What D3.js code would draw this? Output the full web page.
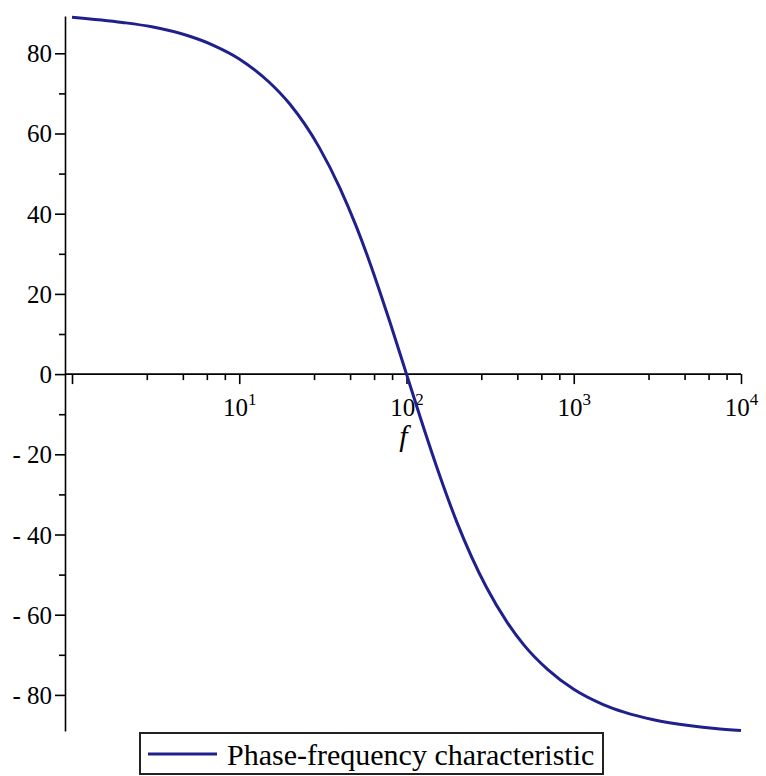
<!DOCTYPE html>
<meta charset="utf-8">
<style>
    body { margin: 0; background: #fff; }
    .axis path, .axis line { stroke: #000; stroke-width: 1.6; }
</style>
<svg class="chart"></svg>
<script src="https://cdn.jsdelivr.net/npm/d3@7"></script>
<script>

    // phase values (degrees), at these frequencies
    const freqs = [1, 2, 3, 5, 7, 10, 15, 20, 30, 40, 50, 60, 70, 80, 100, 120, 150, 200,
        300, 400, 500, 700, 1000, 1500, 2000, 3000, 5000, 7000, 10000];
    const phase = [89.0, 87.7, 86.6, 84.3, 82.0, 78.6, 72.9, 67.4, 56.6, 46.4, 36.9, 28.1, 20.0, 12.7, 0,
        -10.4, -22.6, -36.9, -53.1, -61.9, -67.4, -73.7, -78.6, -82.4, -84.3, -86.2, -87.7, -88.4, -88.9];

    const xMajor = [1, 10, 100, 1000, 10000];
    const xLabels = ["", "1", "2", "3", "4"];   // exponents of 10
    const xMinorMult = [2.8, 4.6, 6.4, 8.2];
    const yMajor = [-80, -60, -40, -20, 0, 20, 40, 60, 80];
    const yMinor = [-70, -50, -30, -10, 10, 30, 50, 70];
    const seriesName = "Phase-frequency characteristic";

    const width = 766, height = 776;
    const serif = "Liberation Serif";

    const x = d3.scaleLog().domain([1, 10000]).range([72, 741]);
    const y = d3.scaleLinear().domain([-89.0, 89.3]).range([731, 16]);
    const axisX = 65;

    const svg = d3.select(".chart")
        .attr("width", width)
        .attr("height", height);

    const xMinor = [];
    xMajor.slice(0, -1).forEach(m => xMinorMult.forEach(k => xMinor.push(m * k)));

    // y axis
    const gy = svg.append("g")
        .attr("class", "axis")
        .attr("transform", `translate(${axisX},0)`);
    gy.call(d3.axisLeft(y).tickValues(yMajor).tickSize(10).tickSizeOuter(0).tickPadding(3)
        .tickFormat(d => d < 0 ? "- " + Math.abs(d) : d));
    gy.append("g").call(d3.axisLeft(y).tickValues(yMinor).tickSize(6).tickFormat(""))
        .select(".domain").remove();
    gy.attr("font-family", serif).attr("font-size", 25);
    gy.selectAll("text").attr("dy", "0.34em").attr("fill", "#000");

    // x axis at phase 0
    const gx = svg.append("g")
        .attr("class", "axis")
        .attr("transform", `translate(0,${y(0)})`);
    gx.call(d3.axisBottom(x).tickValues(xMajor).tickSize(10).tickSizeOuter(0).tickFormat(""));
    gx.select(".domain").remove();
    gx.attr("font-family", serif).attr("font-size", 25);
    gx.append("line")
        .attr("x1", axisX).attr("x2", x(10000))
        .attr("y1", 0).attr("y2", 0);
    gx.append("g").call(d3.axisBottom(x).tickValues(xMinor).tickSize(6).tickFormat(""))
        .select(".domain").remove();

    gx.selectAll(".tick")
        .filter(d => xLabels[xMajor.indexOf(d)])
        .append("text")
        .attr("y", 42)
        .attr("fill", "#000")
        .attr("text-anchor", "middle")
        .each(function (d) {
            const t = d3.select(this);
            t.append("tspan").text("10");
            t.append("tspan").attr("dy", -11).attr("font-size", 17)
                .text(xLabels[xMajor.indexOf(d)]);
        });

    svg.append("text")
        .attr("x", x(100) - 3)
        .attr("y", y(0) + 72)
        .attr("text-anchor", "middle")
        .attr("font-family", serif)
        .attr("font-style", "italic")
        .attr("font-size", 30)
        .text("f");

    // curve
    const line = d3.line()
        .x((d, i) => x(freqs[i]))
        .y(d => y(d))
        .curve(d3.curveMonotoneX);

    svg.append("path")
        .datum(phase)
        .attr("fill", "none")
        .attr("stroke", "#20208c")
        .attr("stroke-width", 3)
        .attr("d", line);

    // legend
    const lg = svg.append("g").attr("class", "legend");
    lg.append("rect")
        .attr("x", 140).attr("y", 733)
        .attr("width", 463).attr("height", 41)
        .attr("fill", "#fff")
        .attr("stroke", "#222")
        .attr("stroke-width", 2);
    lg.append("line")
        .attr("x1", 148).attr("x2", 217)
        .attr("y1", 754).attr("y2", 754)
        .attr("stroke", "#20208c")
        .attr("stroke-width", 3);
    lg.append("text")
        .attr("x", 227).attr("y", 765)
        .attr("font-family", serif)
        .attr("font-size", 30)
        .attr("fill", "#000")
        .text(seriesName);

</script>
